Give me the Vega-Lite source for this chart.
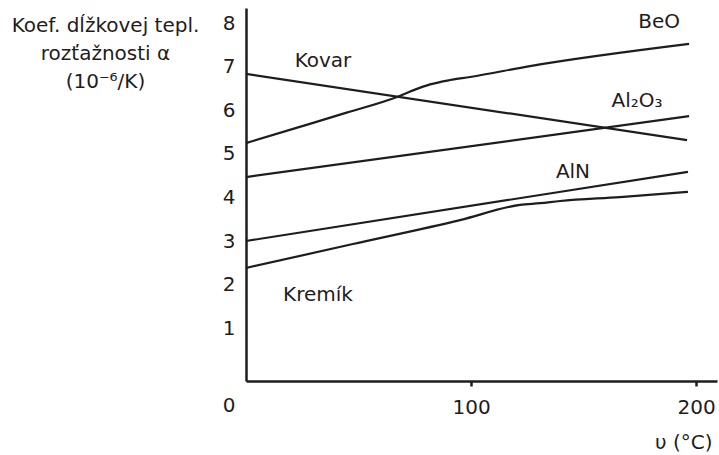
{
  "$schema": "https://vega.github.io/schema/vega-lite/v6.json",
  "width": 471,
  "height": 373,
  "autosize": "none",
  "padding": {"left": 246, "top": 8, "right": 2, "bottom": 74},
  "background": "white",
  "config": {"view": {"stroke": null}, "font": "DejaVu Sans"},
  "datasets": {
    "curves": [
      {"material": "Kovar", "t": 0, "alpha": 6.84},
      {"material": "Kovar", "t": 196.0, "alpha": 5.32},
      {"material": "BeO", "t": 0, "alpha": 5.25},
      {"material": "BeO", "t": 22.4, "alpha": 5.6},
      {"material": "BeO", "t": 44.7, "alpha": 5.95},
      {"material": "BeO", "t": 67.1, "alpha": 6.31},
      {"material": "BeO", "t": 75.1, "alpha": 6.48},
      {"material": "BeO", "t": 81.8, "alpha": 6.6},
      {"material": "BeO", "t": 90.7, "alpha": 6.7},
      {"material": "BeO", "t": 99.6, "alpha": 6.77},
      {"material": "BeO", "t": 126.2, "alpha": 7.02},
      {"material": "BeO", "t": 196.9, "alpha": 7.53},
      {"material": "Al2O3", "t": 0, "alpha": 4.47},
      {"material": "Al2O3", "t": 196.9, "alpha": 5.87},
      {"material": "AlN", "t": 0, "alpha": 3.0},
      {"material": "AlN", "t": 196.4, "alpha": 4.59},
      {"material": "Kremík", "t": 0, "alpha": 2.38},
      {"material": "Kremík", "t": 47.5, "alpha": 2.93},
      {"material": "Kremík", "t": 95.1, "alpha": 3.48},
      {"material": "Kremík", "t": 121.8, "alpha": 3.83},
      {"material": "Kremík", "t": 130.7, "alpha": 3.87},
      {"material": "Kremík", "t": 139.6, "alpha": 3.92},
      {"material": "Kremík", "t": 166.2, "alpha": 4.01},
      {"material": "Kremík", "t": 196.4, "alpha": 4.13}
    ],
    "labels": [
      {"label": "Kovar", "t": 34.2, "alpha": 7.14},
      {"label": "BeO", "t": 183.6, "alpha": 8.03},
      {"label": "Al₂O₃", "t": 173.8, "alpha": 6.22},
      {"label": "AlN", "t": 145.3, "alpha": 4.59},
      {"label": "Kremík", "t": 32, "alpha": 1.76}
    ]
  },
  "layer": [
    {
      "data": {"name": "curves"},
      "mark": {"type": "line", "interpolate": "monotone", "color": "#1f1c1d", "strokeWidth": 2.2, "clip": false},
      "encoding": {
        "x": {
          "field": "t", "type": "quantitative",
          "scale": {"domain": [0, 209.3], "nice": false, "zero": false},
          "axis": {
            "values": [100, 200],
            "grid": false,
            "title": "υ (°C)",
            "domainColor": "#1f1c1d", "domainWidth": 2.5,
            "tickColor": "#1f1c1d", "tickWidth": 2.5, "tickSize": 5,
            "labelFontSize": 20, "labelColor": "#1f1c1d", "labelPadding": 11, "labelFont": "DejaVu Sans",
            "labelFlush": false,
            "titleFont": "DejaVu Sans", "titleFontSize": 20, "titleFontWeight": "normal", "titleColor": "#1f1c1d",
            "titleAnchor": "end", "titleAlign": "right", "titleBaseline": "alphabetic",
            "titleX": 466, "titleY": 67
          }
        },
        "y": {
          "field": "alpha", "type": "quantitative",
          "scale": {"domain": [-0.218, 8.356], "nice": false, "zero": false},
          "axis": {
            "values": [0, 1, 2, 3, 4, 5, 6, 7, 8],
            "grid": false,
            "ticks": false, "tickSize": 0,
            "domainColor": "#1f1c1d", "domainWidth": 2.5,
            "labelFontSize": 20, "labelColor": "#1f1c1d", "labelPadding": 11, "labelFont": "DejaVu Sans",
            "labelBaseline": "middle", "labelFlush": false,
            "labelOffset": {"condition": {"test": "datum.value === 0", "value": 34}, "value": 0},
            "title": ["Koef. dĺžkovej tepl.", "rozťažnosti α", "(10⁻⁶/K)"],
            "titleFont": "DejaVu Sans", "titleFontSize": 20, "titleFontWeight": "normal", "titleColor": "#1f1c1d",
            "titleAngle": 0, "titleAlign": "center", "titleBaseline": "alphabetic",
            "titleX": -141, "titleY": 23, "titleLineHeight": 28
          }
        },
        "detail": {"field": "material", "type": "nominal"}
      }
    },
    {
      "data": {"name": "labels"},
      "mark": {"type": "text", "font": "DejaVu Sans", "fontSize": 20, "align": "center", "baseline": "middle", "color": "#1f1c1d", "clip": false},
      "encoding": {
        "x": {"field": "t", "type": "quantitative"},
        "y": {"field": "alpha", "type": "quantitative"},
        "text": {"field": "label"}
      }
    }
  ]
}
